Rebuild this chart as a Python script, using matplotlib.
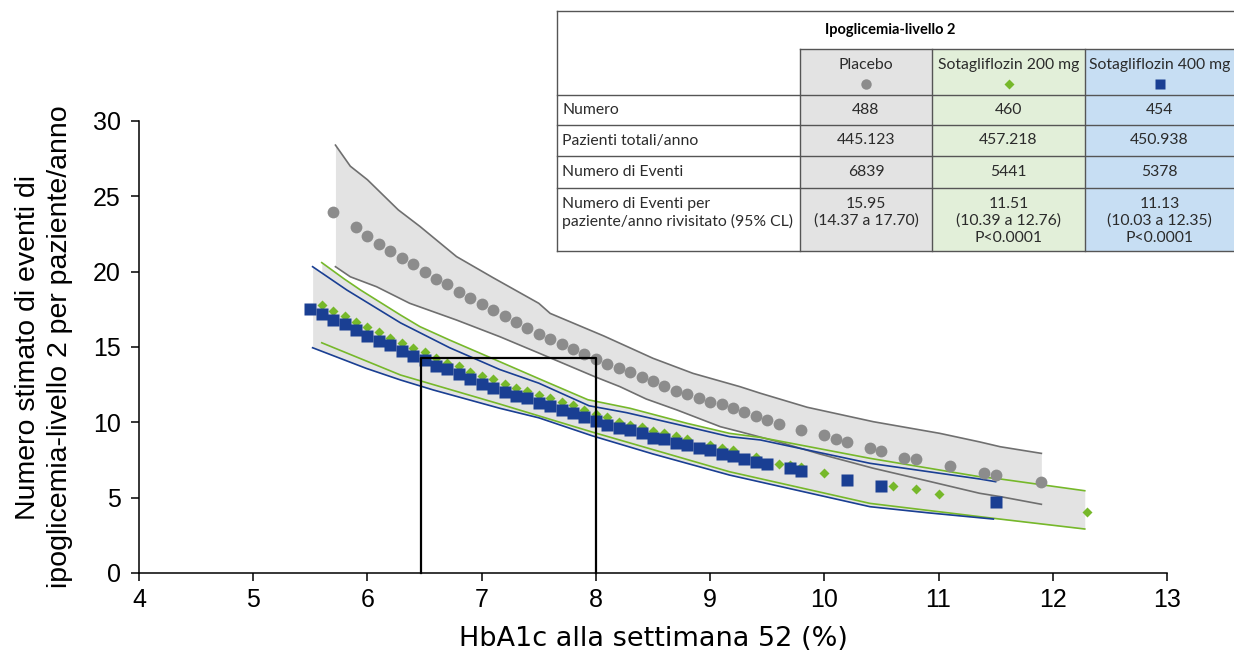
import numpy as np
import matplotlib
matplotlib.use('Agg')
from matplotlib import pyplot as plt
from matplotlib.patches import Rectangle

# ---- data ----
# placebo (grey circles)
plac_x = [5.7, 5.9, 6.0, 6.1, 6.2, 6.3, 6.4, 6.5, 6.6, 6.7, 6.8, 6.9, 7.0, 7.1, 7.2, 7.3,
          7.4, 7.5, 7.6, 7.7, 7.8, 7.9, 8.0, 8.1, 8.2, 8.3, 8.4, 8.5, 8.6, 8.7, 8.8, 8.9,
          9.0, 9.1, 9.2, 9.3, 9.4, 9.5, 9.6, 9.8, 10.0, 10.1, 10.2, 10.4, 10.5, 10.7,
          10.8, 11.1, 11.4, 11.5, 11.9]
plac_y = [23.94, 22.94, 22.34, 21.85, 21.39, 20.90, 20.5, 19.96, 19.53, 19.15, 18.63, 18.25,
          17.84, 17.45, 17.05, 16.65, 16.25, 15.86, 15.5, 15.17, 14.86, 14.55, 14.2, 13.89,
          13.6, 13.33, 13.03, 12.74, 12.39, 12.1, 11.85, 11.6, 11.33, 11.2, 10.95, 10.7,
          10.4, 10.15, 9.89, 9.51, 9.13, 8.92, 8.71, 8.31, 8.08, 7.66, 7.54, 7.07, 6.64,
          6.52, 6.04]
plac_band_x = [5.72, 5.85, 6.0, 6.27, 6.46, 6.78, 7.1, 7.5, 7.6, 8.07, 8.5, 8.85, 9.26,
               9.44, 9.85, 10.43, 11.01, 11.36, 11.54, 11.9]
plac_hi = [28.4, 27.0, 26.1, 24.1, 23.0, 21.0, 19.6, 17.9, 17.23, 15.73, 14.25, 13.25,
           12.37, 11.93, 11.0, 10.04, 9.27, 8.7, 8.38, 7.94]
plac_lo_x = [5.72, 5.85, 6.08, 6.37, 6.78, 7.16, 7.5, 7.99, 8.21, 8.44, 8.71, 9.09, 9.26,
             9.6, 9.96, 10.43, 10.87, 11.36, 11.54, 11.9]
plac_lo = [20.33, 19.66, 19.0, 17.9, 16.79, 15.68, 14.6, 13.03, 12.37, 11.55, 10.82, 9.71,
           9.38, 8.7, 7.9, 6.95, 6.17, 5.29, 5.07, 4.56]

# sotagliflozin 200 mg (green diamonds)
s200_x = [5.6, 5.7, 5.8, 5.9, 6.0, 6.1, 6.2, 6.3, 6.4, 6.5, 6.6, 6.7, 6.8, 6.9, 7.0, 7.1,
          7.2, 7.3, 7.4, 7.5, 7.6, 7.7, 7.8, 7.9, 8.0, 8.1, 8.2, 8.3, 8.4, 8.5, 8.6, 8.7,
          8.8, 9.0, 9.1, 9.2, 9.4, 9.6, 9.7, 9.8, 10.0, 10.6, 10.8, 11.0, 12.3]
s200_y = [17.78, 17.39, 17.05, 16.68, 16.35, 15.97, 15.61, 15.28, 14.91, 14.69, 14.29, 13.95,
          13.74, 13.36, 13.07, 12.85, 12.52, 12.3, 12.08, 11.81, 11.59, 11.37, 11.15, 10.82,
          10.55, 10.37, 10.04, 9.82, 9.71, 9.44, 9.27, 9.09, 8.87, 8.49, 8.27, 8.16, 7.72,
          7.21, 7.17, 7.06, 6.61, 5.77, 5.55, 5.24, 4.03]
s200_hi_x = [5.6, 5.8, 5.94, 6.29, 6.46, 6.72, 7.16, 7.5, 7.93, 8.3, 8.8, 9.17, 9.44, 10.4,
             11.36, 11.54, 12.28]
s200_hi = [20.6, 19.5, 18.78, 17.12, 16.35, 15.46, 14.02, 12.9, 11.5, 10.93, 9.93, 9.27, 9.0,
           7.61, 6.39, 6.24, 5.46]
s200_lo_x = [5.6, 6.29, 7.16, 7.97, 9.17, 10.4, 11.48, 12.28]
s200_lo = [15.28, 13.14, 11.21, 9.35, 6.72, 4.62, 3.63, 2.92]

# sotagliflozin 400 mg (blue squares)
s400_x = [5.5, 5.6, 5.7, 5.8, 5.9, 6.0, 6.1, 6.2, 6.3, 6.4, 6.5, 6.6, 6.7, 6.8, 6.9, 7.0,
          7.1, 7.2, 7.3, 7.4, 7.5, 7.6, 7.7, 7.8, 7.9, 8.0, 8.1, 8.2, 8.3, 8.4, 8.5, 8.6,
          8.7, 8.8, 8.9, 9.0, 9.1, 9.2, 9.3, 9.4, 9.5, 9.7, 9.8, 10.2, 10.5, 11.5]
s400_y = [17.5, 17.19, 16.79, 16.5, 16.12, 15.73, 15.41, 15.13, 14.73, 14.4, 14.13, 13.74,
          13.52, 13.18, 12.89, 12.54, 12.25, 12.03, 11.75, 11.59, 11.3, 11.08, 10.82, 10.6,
          10.33, 10.08, 9.83, 9.6, 9.47, 9.27, 8.94, 8.87, 8.63, 8.49, 8.27, 8.16, 7.9,
          7.76, 7.54, 7.39, 7.21, 6.95, 6.77, 6.16, 5.76, 4.71]
s400_hi_x = [5.52, 5.82, 6.29, 6.72, 7.16, 7.5, 7.94, 8.27, 8.8, 9.17, 9.44, 10.4, 11.36, 11.5]
s400_hi = [20.33, 18.78, 16.6, 14.95, 13.5, 12.6, 11.1, 10.64, 9.71, 9.05, 8.83, 7.28, 6.24, 6.06]
s400_lo_x = [5.52, 5.99, 6.29, 6.58, 7.16, 7.5, 7.97, 8.5, 9.17, 10.4, 10.9, 11.48]
s400_lo = [14.95, 13.58, 12.81, 12.14, 10.93, 10.3, 9.1, 7.9, 6.5, 4.4, 4.0, 3.58]

# guide lines on HbA1c ~6.5 and 8.0
guide_x = [6.47, 6.47, 8.0, 8.0]
guide_y = [0, 14.25, 14.25, 0]

# table content
tab_title = 'Ipoglicemia-livello 2'
col_names = ['Placebo', 'Sotagliflozin 200 mg', 'Sotagliflozin 400 mg']
row_labels = ['Numero', 'Pazienti totali/anno', 'Numero di Eventi',
              'Numero di Eventi per\npaziente/anno rivisitato (95% CL)']
plac_col = ['488', '445.123', '6839', '15.95\n(14.37 a 17.70)']
s200_col = ['460', '457.218', '5441', '11.51\n(10.39 a 12.76)\nP<0.0001']
s400_col = ['454', '450.938', '5378', '11.13\n(10.03 a 12.35)\nP<0.0001']

GREY = '#8c8c8c'
GREYLINE = '#6f6f6f'
GREEN = '#76b82a'
BLUE = '#1a3f93'
BAND = '#e3e3e3'

plt.rcParams['font.family'] = 'Liberation Sans'
fig = plt.figure(figsize=(12.34, 6.54), dpi=100)
ax = fig.add_axes([139/1234, 1-573/654, (1167-139)/1234, (573-121)/654])


def band(xh, yh, xl, yl):
    # interpolate both edges on a common grid so the fill follows the lines
    g = np.linspace(max(xh[0], xl[0]), min(xh[-1], xl[-1]), 200)
    ax.fill_between(g, np.interp(g, xl, yl), np.interp(g, xh, yh), color=BAND, lw=0, zorder=1)


band(plac_band_x, plac_hi, plac_lo_x, plac_lo)
band(s400_hi_x, s400_hi, s400_lo_x, s400_lo)
band(s200_hi_x, s200_hi, s200_lo_x, s200_lo)

ax.plot(plac_band_x, plac_hi, color=GREYLINE, lw=1.2, zorder=2)
ax.plot(plac_lo_x, plac_lo, color=GREYLINE, lw=1.2, zorder=2)
ax.plot(s200_hi_x, s200_hi, color=GREEN, lw=1.2, zorder=2)
ax.plot(s200_lo_x, s200_lo, color=GREEN, lw=1.2, zorder=2)
ax.plot(s400_hi_x, s400_hi, color=BLUE, lw=1.2, zorder=2.1)
ax.plot(s400_lo_x, s400_lo, color=BLUE, lw=1.2, zorder=2.1)

ax.plot(plac_x, plac_y, 'o', color=GREY, ms=8.5, mec='none', zorder=3)
ax.plot(s200_x, s200_y, 'D', color=GREEN, ms=5.5, mec='none', zorder=3)
ax.plot(s400_x, s400_y, 's', color=BLUE, ms=8, mec='none', zorder=3.1)

ax.plot(guide_x, guide_y, color='black', lw=1.6, solid_joinstyle='round', zorder=4, clip_on=False)

ax.set_xlim(4, 13)
ax.set_ylim(0, 30)
ax.set_xticks(range(4, 14))
ax.set_yticks(range(0, 31, 5))
for s in ['top', 'right']:
    ax.spines[s].set_visible(False)
for s in ['left', 'bottom']:
    ax.spines[s].set_linewidth(1.1)
ax.tick_params(direction='out', length=6, width=1.1, labelsize=18)
ax.tick_params(axis='y', pad=7)
ax.tick_params(axis='x', pad=5)
ax.set_xlabel('HbA1c alla settimana 52 (%)', fontsize=19.5, labelpad=10,
              family=['DejaVu Sans'])
ax.set_ylabel('Numero stimato di eventi di\nipoglicemia-livello 2 per paziente/anno',
              fontsize=20.5, labelpad=14, linespacing=1.3)

# ---- table drawn in pixel coords on an overlay axes ----
tab = fig.add_axes([0, 0, 1, 1], zorder=5)
tab.set_xlim(0, 1234)
tab.set_ylim(654, 0)
tab.axis('off')
tab.patch.set_alpha(0)

cx = [557, 800, 932, 1085, 1240]
ry = [11, 49, 95, 125, 156, 188, 251]
fills = [BAND, '#e2efd9', '#c7def3']
EDGE = '#555555'
TXT = '#2b2b2b'
tf = ['Lato', 'DejaVu Sans']
FS = 11.3

tab.add_patch(Rectangle((cx[0], ry[0]), cx[-1]-cx[0], ry[-1]-ry[0], fc='white', ec='none'))
for i, c in enumerate(fills):
    tab.add_patch(Rectangle((cx[i+1], ry[1]), cx[i+2]-cx[i+1], ry[-1]-ry[1], fc=c, ec='none'))
lk = dict(color=EDGE, lw=1.0)
tab.plot([cx[0], cx[-1]], [ry[0], ry[0]], **lk)
tab.plot([cx[1], cx[-1]], [ry[1], ry[1]], **lk)
for y in ry[2:]:
    tab.plot([cx[0], cx[-1]], [y, y], **lk)
tab.plot([cx[0], cx[0]], [ry[0], ry[-1]], **lk)
for x in cx[1:4]:
    tab.plot([x, x], [ry[1], ry[-1]], **lk)

tab.text(890, 30, tab_title, ha='center', va='center', fontsize=10.5,
         fontweight='bold', family=tf, color='black')
marks = [('o', GREY, 7.5), ('D', GREEN, 5), ('s', BLUE, 7)]
for i, name in enumerate(col_names):
    xc = (cx[i+1] + min(cx[i+2], 1234)) / 2
    tab.text(xc, 65, name, ha='center', va='center', fontsize=FS, family=tf, color=TXT)
    m, c, s = marks[i]
    tab.plot([xc], [84], m, color=c, ms=s, mec='none')

cols = [plac_col, s200_col, s400_col]
for r, lab in enumerate(row_labels):
    if r < 3:
        yc = (ry[r+2] + ry[r+3]) / 2
        tab.text(cx[0]+5, yc, lab, ha='left', va='center', fontsize=FS, family=tf, color=TXT)
        for i, col in enumerate(cols):
            xc = (cx[i+1] + min(cx[i+2], 1234)) / 2
            tab.text(xc, yc, col[r], ha='center', va='center', fontsize=FS, family=tf, color=TXT)
    else:
        yt = ry[r+2] + 9
        tab.text(cx[0]+5, yt, lab, ha='left', va='top', fontsize=FS, family=tf, color=TXT,
                 linespacing=1.25)
        for i, col in enumerate(cols):
            xc = (cx[i+1] + min(cx[i+2], 1234)) / 2
            tab.text(xc, yt, col[r], ha='center', va='top', fontsize=FS, family=tf, color=TXT,
                     linespacing=1.25)

fig.savefig('out.png', dpi=100)
